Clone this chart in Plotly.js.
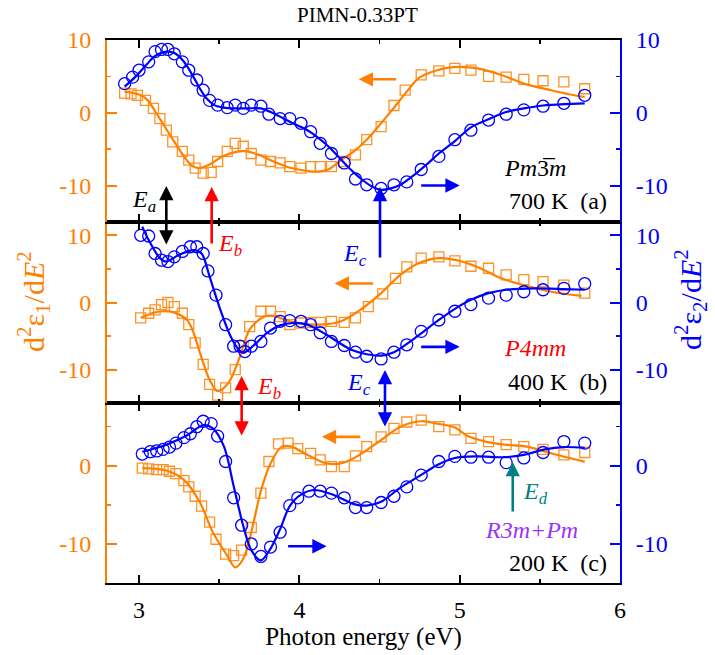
<!DOCTYPE html>
<html>
<head>
<meta charset="utf-8">
<script src="https://cdn.plot.ly/plotly-3.0.1.min.js"></script>
<style>html,body{margin:0;padding:0;background:#fff;}#chart{width:715px;height:655px;}</style>
</head>
<body>
<div id="chart"></div>
<script>
// ---------------- Panel (a) 700 K ----------------
const a_e1_x = [2.91,2.95,2.99,3.04,3.09,3.13,3.17,3.21,3.27,3.31,3.35,3.40,3.45,3.49,3.55,3.60,3.65,3.70,3.76,3.82,3.88,3.94,4.01,4.07,4.13,4.20,4.28,4.35,4.42,4.51,4.59,4.66,4.76,4.87,4.97,5.07,5.18,5.29,5.40,5.52,5.65,5.78];
const a_e1_y = [2.7,2.6,2.4,1.7,0.6,-0.8,-2.4,-4.0,-5.3,-6.5,-7.6,-8.3,-8.2,-6.7,-5.3,-4.2,-4.6,-5.6,-6.5,-6.7,-6.9,-7.4,-7.6,-7.4,-7.4,-7.4,-6.7,-5.8,-3.7,-1.9,1.0,3.1,5.2,5.75,6.1,5.85,5.0,4.9,4.6,4.4,4.25,3.3];
const a_e1fit_x = [2.91,3.0,3.05,3.12,3.2,3.28,3.33,3.38,3.45,3.52,3.6,3.67,3.75,3.85,3.95,4.05,4.11,4.18,4.26,4.34,4.42,4.5,4.59,4.67,4.74,4.8,4.86,4.93,5.0,5.11,5.26,5.4,5.57,5.74,5.78];
const a_e1fit_y = [2.9,2.5,1.8,-0.5,-3.3,-6.0,-7.3,-7.6,-7.0,-6.0,-5.4,-5.3,-5.8,-6.8,-7.6,-8.0,-8.1,-7.8,-6.5,-5.3,-3.7,-1.7,0.7,2.9,4.7,5.4,5.85,6.2,6.3,6.1,5.2,4.0,3.1,2.3,2.2];
const a_e2_x = [2.91,2.96,3.00,3.06,3.10,3.14,3.18,3.22,3.27,3.31,3.36,3.40,3.44,3.49,3.55,3.60,3.65,3.70,3.76,3.81,3.88,3.94,4.01,4.07,4.13,4.20,4.28,4.35,4.42,4.51,4.59,4.67,4.76,4.87,4.97,5.07,5.18,5.29,5.40,5.52,5.65,5.78];
const a_e2_y = [4.0,4.9,5.85,7.0,8.4,8.7,8.7,8.1,7.0,5.85,4.5,3.1,1.7,1.05,0.7,1.05,0.6,1.05,0.9,-0.2,-0.8,-0.8,-1.45,-2.6,-4.2,-5.6,-6.9,-9.1,-9.9,-10.4,-9.9,-9.5,-7.8,-6.0,-3.7,-2.4,-1.0,-0.2,0.4,0.9,1.3,2.4];
const a_e2fit_x = [2.91,2.98,3.05,3.1,3.17,3.22,3.28,3.34,3.38,3.42,3.47,3.53,3.59,3.67,3.76,3.84,3.96,4.05,4.11,4.18,4.25,4.32,4.38,4.45,4.51,4.57,4.63,4.73,4.8,4.87,4.97,5.07,5.18,5.29,5.4,5.52,5.65,5.78];
const a_e2fit_y = [3.6,5.0,6.7,7.8,8.4,8.2,7.0,4.9,3.3,2.0,1.05,0.7,0.6,0.6,0.6,-0.1,-1.45,-2.4,-3.3,-4.6,-6.2,-7.8,-9.0,-10.1,-10.6,-10.4,-9.9,-8.3,-7.0,-5.6,-3.9,-2.0,-0.9,0.1,0.6,1.0,1.2,1.3];

// ---------------- Panel (b) 400 K ----------------
const b_e1_x = [3.01,3.06,3.10,3.14,3.18,3.22,3.27,3.31,3.35,3.40,3.44,3.49,3.54,3.60,3.65,3.69,3.76,3.82,3.88,3.94,4.01,4.07,4.13,4.20,4.28,4.35,4.43,4.52,4.60,4.67,4.76,4.87,4.97,5.07,5.18,5.29,5.40,5.52,5.65,5.78];
const b_e1_y = [-2.3,-1.6,-1.1,-0.3,0.0,-0.6,-1.6,-3.3,-6.0,-9.2,-12.2,-13.8,-12.7,-10.0,-6.5,-3.6,-1.3,-1.3,-2.1,-3.3,-3.05,-2.96,-2.96,-2.8,-2.96,-2.3,-0.6,1.3,3.6,5.3,6.6,6.8,6.2,5.4,5.1,4.1,3.4,3.1,2.6,1.4];
const b_e1fit_x = [3.01,3.08,3.15,3.22,3.30,3.34,3.38,3.44,3.49,3.56,3.63,3.69,3.78,3.84,3.94,4.11,4.26,4.38,4.51,4.63,4.74,4.87,4.98,5.11,5.26,5.40,5.57,5.76];
const b_e1fit_y = [-2.3,-1.6,-1.3,-1.5,-2.6,-4.5,-7.5,-11.5,-13.2,-11.9,-8.0,-4.0,-2.1,-2.0,-2.8,-3.3,-2.8,-1.1,1.4,4.1,5.8,6.6,6.3,5.3,3.6,2.6,1.6,1.0];
const b_e2_x = [3.01,3.06,3.10,3.14,3.18,3.22,3.27,3.32,3.36,3.40,3.43,3.48,3.54,3.59,3.63,3.66,3.70,3.76,3.82,3.88,3.94,4.01,4.07,4.13,4.20,4.28,4.35,4.42,4.51,4.59,4.67,4.76,4.87,4.97,5.07,5.18,5.29,5.40,5.52,5.65,5.78];
const b_e2_y = [10.0,9.9,7.3,6.3,6.1,6.8,7.6,8.3,8.3,7.3,4.7,1.1,-3.3,-6.5,-6.5,-7.3,-6.5,-5.8,-3.8,-2.8,-2.7,-2.8,-3.3,-4.5,-5.8,-6.4,-7.4,-8.0,-8.4,-7.4,-6.3,-4.3,-2.6,-1.3,-0.3,0.65,1.1,1.6,1.9,2.1,2.8];
const b_e2fit_x = [3.02,3.06,3.13,3.17,3.25,3.34,3.39,3.44,3.50,3.57,3.62,3.65,3.71,3.80,3.88,3.96,4.05,4.17,4.32,4.42,4.51,4.59,4.72,4.87,4.98,5.07,5.18,5.29,5.47,5.65,5.78];
const b_e2fit_y = [11.3,9.3,6.6,6.1,7.1,7.8,7.3,3.85,-0.6,-5.0,-7.0,-7.5,-6.5,-4.5,-3.4,-3.05,-3.3,-4.8,-7.0,-7.7,-7.9,-7.4,-5.3,-2.6,-0.8,0.4,1.4,1.9,2.1,2.0,1.9];

// ---------------- Panel (c) 200 K ----------------
const c_e1_x = [3.02,3.06,3.11,3.15,3.19,3.23,3.28,3.31,3.35,3.39,3.44,3.48,3.54,3.59,3.64,3.70,3.76,3.81,3.87,3.93,3.99,4.07,4.13,4.20,4.28,4.35,4.42,4.51,4.59,4.67,4.76,4.87,4.97,5.07,5.18,5.29,5.40,5.52,5.65,5.78];
const c_e1_y = [-0.3,-0.4,-0.5,-0.5,-0.7,-1.0,-1.9,-2.7,-3.9,-5.15,-7.2,-9.4,-11.3,-11.5,-10.8,-7.9,-3.5,0.55,2.8,2.9,2.2,1.6,0.76,-0.1,-0.1,1.27,2.45,3.7,4.8,5.6,5.85,5.0,4.6,3.5,3.1,2.7,2.45,2.1,1.4,1.7];
const c_e1fit_x = [3.02,3.17,3.28,3.38,3.46,3.55,3.60,3.65,3.70,3.76,3.82,3.89,3.95,4.05,4.17,4.26,4.36,4.51,4.63,4.76,4.86,4.97,5.05,5.16,5.28,5.42,5.57,5.78];
const c_e1fit_y = [-0.3,-0.6,-1.8,-4.7,-8.5,-11.5,-13.0,-11.9,-8.5,-3.2,0.3,2.45,2.45,1.4,0.3,0.3,1.2,3.3,5.0,5.7,5.4,4.9,3.8,3.1,2.7,2.45,1.6,0.5];
const c_e2_x = [3.02,3.07,3.11,3.15,3.19,3.23,3.28,3.32,3.36,3.40,3.45,3.49,3.54,3.59,3.64,3.70,3.76,3.82,3.88,3.94,3.99,4.06,4.13,4.20,4.28,4.35,4.42,4.51,4.59,4.67,4.76,4.87,4.97,5.07,5.18,5.29,5.40,5.52,5.65,5.78];
const c_e2_y = [1.5,1.8,1.9,2.1,2.4,2.9,3.6,4.1,5.0,5.7,5.4,3.8,0.55,-4.1,-7.6,-10.0,-11.6,-10.4,-8.5,-5.1,-4.1,-3.25,-3.25,-3.5,-4.1,-5.35,-5.35,-4.7,-3.9,-2.7,-1.2,0.55,1.2,1.1,1.1,0.4,1.0,1.7,3.1,2.9];
const c_e2fit_x = [3.02,3.17,3.30,3.40,3.46,3.53,3.59,3.65,3.70,3.76,3.82,3.88,3.94,4.01,4.09,4.21,4.34,4.42,4.51,4.63,4.75,4.86,4.97,5.11,5.28,5.40,5.53,5.65,5.78];
const c_e2fit_y = [1.8,2.7,3.9,5.2,4.8,2.45,-2.6,-7.7,-10.8,-12.1,-10.6,-8.1,-5.15,-3.7,-3.1,-3.7,-4.9,-5.1,-4.6,-2.8,-1.3,0.1,1.0,1.2,1.1,1.4,2.1,2.4,2.3];

const yTickVals = [-10, 0, 10];
const yTickText = ['-10', '0', '10'];
const xTickVals = [3, 4, 5, 6];

const ORANGE = '#ff8000', BLUE = '#0000ff', TEAL = '#008080', PURPLE = '#9933ff', RED = '#ff0000';
const FONT = 'Liberation Serif';

function sq(x, y, xa, ya) {
  return {x, y, xaxis: xa, yaxis: ya, type: 'scatter', mode: 'markers',
    marker: {symbol: 'square-open', size: 10, color: '#ff9226', line: {width: 1.3}}, hoverinfo: 'skip'};
}
function ci(x, y, xa, ya) {
  return {x, y, xaxis: xa, yaxis: ya, type: 'scatter', mode: 'markers',
    marker: {symbol: 'circle-open', size: 12, color: BLUE, line: {width: 1.3}}, hoverinfo: 'skip'};
}
function ln(x, y, xa, ya, col) {
  return {x, y, xaxis: xa, yaxis: ya, type: 'scatter', mode: 'lines',
    line: {color: col, width: 2.2, shape: 'spline', smoothing: 0.9}, hoverinfo: 'skip'};
}

const data = [
  sq(c_e1_x, c_e1_y, 'x', 'y'), ln(c_e1fit_x, c_e1fit_y, 'x', 'y', ORANGE),
  ci(c_e2_x, c_e2_y, 'x', 'y2'), ln(c_e2fit_x, c_e2fit_y, 'x', 'y2', BLUE),
  sq(b_e1_x, b_e1_y, 'x2', 'y3'), ln(b_e1fit_x, b_e1fit_y, 'x2', 'y3', ORANGE),
  ci(b_e2_x, b_e2_y, 'x2', 'y4'), ln(b_e2fit_x, b_e2fit_y, 'x2', 'y4', BLUE),
  sq(a_e1_x, a_e1_y, 'x3', 'y5'), ln(a_e1fit_x, a_e1fit_y, 'x3', 'y5', ORANGE),
  ci(a_e2_x, a_e2_y, 'x3', 'y6'), ln(a_e2fit_x, a_e2fit_y, 'x3', 'y6', BLUE)
];

function xax(anchor, labels) {
  return {range: [2.8, 6], anchor: anchor, showline: true, linecolor: 'black', linewidth: 2,
    mirror: 'ticks', ticks: 'inside', ticklen: 8, tickwidth: 2, tickcolor: 'black',
    tickmode: 'array', tickvals: xTickVals, showticklabels: labels,
    minor: {dtick: 0.5, tick0: 0, ticklen: 4, tickwidth: 1.5, tickcolor: 'black', ticks: 'inside'},
    tickfont: {family: FONT, size: 24, color: 'black'}, ticklabelstandoff: 4,
    showgrid: false, zeroline: false, fixedrange: true};
}
function yax(domain, range, side, col, overlay, anchor) {
  const o = {domain: domain, range: range, side: side, anchor: anchor, showline: true, linecolor: col, linewidth: 2,
    ticks: 'inside', ticklen: 10, tickwidth: 2, tickcolor: col,
    tickmode: 'array', tickvals: yTickVals, ticktext: yTickText,
    minor: {tickmode: 'array', tickvals: [-5, 5], ticklen: 4, tickwidth: 1.5, tickcolor: col, ticks: 'inside'},
    tickfont: {family: FONT, size: 24, color: col}, ticklabelstandoff: 9,
    showgrid: false, zeroline: false, fixedrange: true};
  if (overlay) o.overlaying = overlay;
  return o;
}

const dC = [0, 0.331], dB = [0.331, 0.665], dA = [0.665, 1];

const arrowBase = {text: '', showarrow: true, arrowhead: 2, arrowsize: 1.1, arrowwidth: 2.6, standoff: 0, startstandoff: 0};
function harrow(x, y, xref, yref, ax, col) {
  return Object.assign({}, arrowBase, {x, y, xref, yref, ax, ay: 0, axref: 'pixel', ayref: 'pixel', arrowcolor: col});
}
function varrow(x, yp, ay, col, both) {
  return Object.assign({}, arrowBase, {x, y: yp, xref: 'x', yref: 'paper', ax: 0, ay, arrowcolor: col,
    arrowside: both ? 'end+start' : 'end', startarrowhead: 2, startarrowsize: 1.1});
}
function px2xp(px) { return (px - 107) / 513; }
function py2yp(py) { return (583 - py) / 543; }
function txt(t, px, py, col, size, xanchor) {
  return {text: t, x: px2xp(px), y: py2yp(py), xref: 'paper', yref: 'paper', showarrow: false,
    xanchor: xanchor || 'center', yanchor: 'middle', font: {family: FONT, size: size || 24, color: col}};
}

const annotations = [
  harrow(4.37, 4.6, 'x3', 'y5', 39, ORANGE),
  harrow(5.0, -10.0, 'x3', 'y6', -40, BLUE),
  harrow(4.22, 2.84, 'x2', 'y3', 40, ORANGE),
  harrow(5.0, -6.6, 'x2', 'y4', -40, BLUE),
  harrow(4.14, 3.7, 'x', 'y', 40, ORANGE),
  harrow(4.17, -10.3, 'x', 'y2', -40, BLUE),
  varrow(3.17, py2yp(186), 60, 'black', true),
  varrow(3.453, py2yp(187), 58, RED, false),
  varrow(4.503, py2yp(187), 72, BLUE, false),
  varrow(3.64, py2yp(376), 61, RED, true),
  varrow(4.534, py2yp(370), 58, BLUE, true),
  varrow(5.331, py2yp(462), 51, TEAL, false),
  txt('<i>E</i><sub><i>a</i></sub>', 130, 201, 'black', 24, 'left'),
  txt('<i>E</i><sub><i>b</i></sub>', 216, 245, RED, 24, 'left'),
  txt('<i>E</i><sub><i>c</i></sub>', 341, 255, BLUE, 24, 'left'),
  txt('<i>E</i><sub><i>b</i></sub>', 255, 388, RED, 24, 'left'),
  txt('<i>E</i><sub><i>c</i></sub>', 345, 384, BLUE, 24, 'left'),
  txt('<i>E</i><sub><i>d</i></sub>', 521, 493, TEAL, 24, 'left'),
  txt('<i>Pm</i>3\u0305<i>m</i>', 568, 168, 'black', 24, 'right'),
  txt('700 K&nbsp;&nbsp;(a)', 609, 201, 'black', 24, 'right'),
  txt('<i>P4mm</i>', 568, 348, RED, 24, 'right'),
  txt('400 K&nbsp;&nbsp;(b)', 609, 382, 'black', 24, 'right'),
  txt('<i>R3m+Pm</i>', 580, 530, PURPLE, 24, 'right'),
  txt('200 K&nbsp;&nbsp;(c)', 609, 563, 'black', 24, 'right'),
  txt('PIMN-0.33PT', 357, 15, 'black', 21),
  Object.assign(txt('d<sup>2</sup>ε<sub>1</sub>/d<i>E</i><sup>2</sup>', 33, 302, ORANGE, 30), {textangle: -90}),
  Object.assign(txt('d<sup>2</sup>ε<sub>2</sub>/d<i>E</i><sup>2</sup>', 690, 300, BLUE, 30), {textangle: -90})
];

const layout = {
  width: 715, height: 655,
  margin: {l: 107, r: 95, t: 40, b: 72},
  paper_bgcolor: 'white', plot_bgcolor: 'white',
  showlegend: false,
  font: {family: FONT, size: 24, color: 'black'},
  xaxis: Object.assign(xax('y', true), {title: {text: 'Photon energy (eV)', font: {family: FONT, size: 25, color: 'black'}, standoff: 6}}),
  xaxis2: Object.assign(xax('y3', false), {matches: 'x'}),
  xaxis3: Object.assign(xax('y5', false), {matches: 'x'}),
  yaxis: yax(dC, [-15, 8], 'left', ORANGE, null, 'x'),
  yaxis2: yax(dC, [-15, 8], 'right', BLUE, 'y', 'x'),
  yaxis3: yax(dB, [-15, 12], 'left', ORANGE, null, 'x2'),
  yaxis4: yax(dB, [-15, 12], 'right', BLUE, 'y3', 'x2'),
  yaxis5: yax(dA, [-15, 10], 'left', ORANGE, null, 'x3'),
  yaxis6: yax(dA, [-15, 10], 'right', BLUE, 'y5', 'x3'),
  annotations: annotations
};

Plotly.newPlot('chart', data, layout, {staticPlot: true, displayModeBar: false});
</script>
</body>
</html>
